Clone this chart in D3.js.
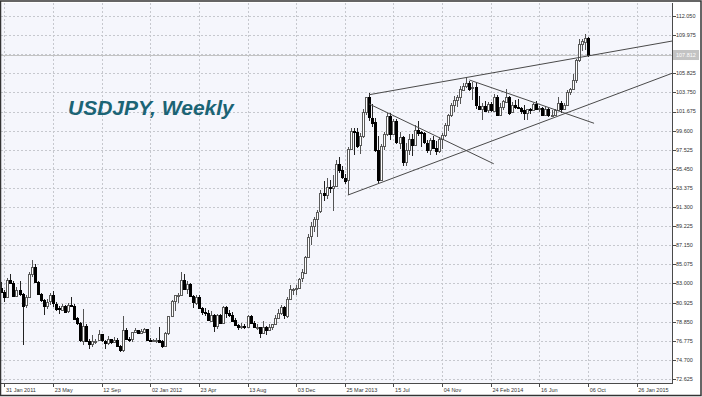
<!DOCTYPE html>
<html lang="en">
<head>
<meta charset="UTF-8">
<title>USDJPY, Weekly</title>
<script src="https://d3js.org/d3.v7.min.js"></script>
<style>
  body { margin: 0; background: #fff; }
  svg { display: block; font-family: "Liberation Sans", Arial, sans-serif; }
  .grid line { stroke: #c6c8ce; stroke-dasharray: 2,2; shape-rendering: crispEdges; }
  .tick-label { font-size: 5.5px; fill: #333; }
</style>
</head>
<body>
<svg width="702" height="397"></svg>
<script>
// weekly candles, first week starts on this Monday
const firstWeek = "2011-01-24";

const opens = [
  82.5, 82.1, 81.6, 83.4, 83.1, 81.7, 82.3, 81.9, 80.6, 81.5, 84.0, 84.8, 83.2, 81.9, 81.2, 80.6, 81.0, 81.7, 80.8, 80.3,
  80.2, 80.6, 80.0, 80.7, 80.6, 79.2, 78.7, 76.8, 78.4, 76.8, 76.5, 76.8, 76.8, 77.5, 76.8, 76.6, 77.0, 76.7, 76.9, 76.2,
  75.8, 78.0, 77.0, 76.9, 77.7, 77.9, 77.6, 77.8, 78.1,
  76.9, 76.8, 76.9, 76.9, 76.7, 76.2, 77.6, 79.5, 81.1, 81.7, 81.8, 83.4, 82.4, 82.9, 81.6, 80.9, 81.5, 80.3, 79.9, 79.8,
  79.0, 79.6, 78.4, 79.6, 78.7, 80.4, 79.8, 79.6, 79.0, 78.5, 78.3, 78.4, 78.3, 79.5, 78.7, 78.3, 78.3, 77.6, 78.3, 78.0,
  78.3, 78.6, 79.3, 79.8, 80.4, 79.5, 81.3, 82.4, 82.4, 82.5, 83.5, 84.2, 85.9,
  88.1, 89.2, 90.0, 90.8, 92.8, 92.6, 93.5, 93.4, 93.6, 96.0, 95.3, 94.5, 94.2, 97.6, 99.6, 99.5, 98.0, 99.0, 101.6, 103.2,
  101.0, 100.5, 97.5, 94.2, 97.9, 99.2, 101.2, 99.2, 100.6, 98.3, 98.9, 96.2, 97.5, 98.7, 98.1, 99.7, 99.4, 99.3, 98.3, 97.5,
  98.6, 97.7, 97.4, 98.7, 99.1, 100.2, 101.3, 102.4, 102.9, 103.2, 104.1, 104.5,
  104.8, 104.2, 104.3, 102.3, 102.0, 102.3, 101.8, 102.5, 101.8, 103.3, 101.3, 102.2, 102.8, 103.3, 101.6, 102.4, 102.2, 102.1, 101.8, 101.5,
  101.9, 101.8, 102.5, 102.0, 102.1, 101.3, 102.0, 101.3, 101.3, 101.8, 102.6, 102.0, 102.4, 103.8, 104.1, 105.1, 107.3, 109.0, 109.3, 109.7
];
const highs = [
  83.2, 82.3, 83.6, 84.0, 83.3, 82.6, 83.3, 82.0, 81.8, 84.2, 85.5, 85.1, 83.3, 82.0, 81.3, 81.3, 82.0, 82.2, 81.0, 80.5,
  80.8, 80.7, 80.9, 81.5, 80.8, 79.4, 78.8, 80.2, 78.6, 77.0, 77.4, 77.0, 77.9, 77.5, 76.9, 77.3, 77.0, 77.2, 77.1, 76.3,
  79.5, 78.2, 77.2, 77.7, 78.2, 78.0, 78.1, 78.2, 78.1,
  77.1, 77.0, 77.1, 78.3, 76.9, 77.7, 79.5, 81.2, 81.7, 82.0, 84.2, 84.0, 83.3, 83.0, 81.8, 81.7, 81.8, 80.4, 80.3, 80.1,
  80.0, 79.7, 79.7, 79.7, 80.5, 80.6, 80.1, 79.9, 79.2, 78.6, 78.7, 78.6, 79.6, 79.6, 78.9, 78.6, 78.3, 78.9, 78.4, 78.6,
  78.6, 79.6, 80.2, 80.7, 80.6, 81.5, 82.8, 82.5, 82.8, 83.6, 84.6, 86.0, 88.4,
  89.7, 90.2, 91.0, 93.2, 94.1, 94.5, 94.2, 94.8, 96.4, 96.7, 95.8, 94.9, 97.8, 99.9, 99.9, 99.9, 99.3, 101.9, 103.3, 103.7,
  102.5, 101.0, 99.0, 98.2, 99.4, 101.5, 101.5, 100.9, 100.9, 99.5, 99.0, 98.3, 99.2, 99.2, 100.2, 100.6, 99.6, 99.5, 98.6, 98.8,
  99.0, 98.5, 98.9, 99.3, 100.4, 101.4, 102.6, 103.4, 103.5, 104.4, 104.8, 105.4,
  105.0, 104.9, 104.8, 103.4, 102.6, 102.8, 102.7, 102.7, 103.6, 103.5, 102.6, 102.9, 104.1, 103.4, 102.7, 102.9, 103.0, 102.2, 102.4, 102.0,
  102.1, 102.6, 102.8, 102.3, 102.2, 102.3, 102.1, 101.8, 101.9, 103.2, 102.8, 102.6, 104.0, 104.2, 105.7, 107.4, 109.5, 109.5, 110.1, 109.8
];
const lows = [
  82.0, 81.0, 81.5, 82.9, 81.6, 81.5, 81.6, 76.3, 80.3, 81.4, 83.7, 83.0, 81.8, 81.0, 79.6, 80.2, 80.7, 80.4, 80.0, 79.7,
  80.0, 79.9, 79.8, 80.4, 79.0, 78.5, 76.6, 76.3, 76.6, 75.9, 76.1, 76.4, 76.7, 76.6, 75.9, 76.3, 76.4, 76.5, 76.1, 75.6,
  75.6, 76.9, 76.6, 76.6, 77.6, 77.5, 77.6, 77.7, 76.7,
  76.6, 76.6, 76.5, 76.6, 76.0, 76.1, 77.4, 79.4, 80.0, 80.9, 81.6, 82.3, 81.9, 81.6, 80.3, 80.7, 80.3, 79.6, 79.5, 79.0,
  78.9, 77.7, 78.1, 78.7, 78.6, 79.3, 79.4, 78.9, 78.4, 78.0, 78.1, 78.1, 78.2, 78.6, 78.2, 78.0, 77.1, 77.5, 77.4, 77.9,
  78.0, 78.5, 79.3, 79.6, 79.1, 79.3, 81.2, 81.7, 81.8, 82.4, 83.2, 84.2, 85.8,
  87.2, 88.6, 88.1, 90.6, 92.0, 92.2, 92.8, 90.9, 93.5, 95.0, 94.3, 93.8, 92.6, 97.6, 97.0, 97.7, 97.1, 98.8, 101.3, 100.7,
  100.0, 97.3, 93.8, 94.1, 97.5, 99.0, 98.6, 99.1, 98.2, 97.6, 95.8, 95.8, 97.0, 96.8, 98.0, 99.0, 97.8, 98.2, 97.2, 96.9,
  97.7, 96.9, 97.2, 97.6, 98.9, 99.6, 101.1, 101.6, 102.2, 102.5, 103.9, 104.2,
  103.9, 102.9, 102.0, 101.8, 100.75, 101.6, 101.5, 101.6, 101.6, 101.2, 101.2, 101.8, 102.8, 101.3, 101.5, 101.9, 101.9, 101.4, 100.8, 100.8,
  101.4, 101.7, 101.9, 101.6, 101.2, 101.2, 101.1, 101.1, 101.3, 101.7, 101.5, 102.0, 102.3, 103.5, 104.0, 104.8, 107.0, 108.3, 108.4, 107.6
];
const closes = [
  82.1, 81.6, 83.4, 83.1, 81.7, 82.3, 81.9, 80.6, 81.5, 84.0, 84.8, 83.2, 81.9, 81.2, 80.6, 81.0, 81.7, 80.8, 80.3, 80.2,
  80.6, 80.0, 80.7, 80.6, 79.2, 78.7, 76.8, 78.4, 76.8, 76.5, 76.8, 76.8, 77.5, 76.8, 76.6, 77.0, 76.7, 76.9, 76.2, 75.8,
  78.0, 77.0, 76.9, 77.7, 77.9, 77.6, 77.8, 78.1, 76.9,
  76.8, 76.9, 76.9, 76.7, 76.2, 77.6, 79.5, 81.1, 81.7, 81.8, 83.4, 82.4, 82.9, 81.6, 80.9, 81.5, 80.3, 79.9, 79.8, 79.0,
  79.6, 78.4, 79.6, 78.7, 80.4, 79.8, 79.6, 79.0, 78.5, 78.3, 78.4, 78.3, 79.5, 78.7, 78.3, 78.3, 77.6, 78.3, 78.0, 78.3,
  78.6, 79.3, 79.8, 80.4, 79.5, 81.3, 82.4, 82.4, 82.5, 83.5, 84.2, 85.9, 88.1,
  89.2, 90.0, 90.8, 92.8, 92.6, 93.5, 93.4, 93.6, 96.0, 95.3, 94.5, 94.2, 97.6, 99.6, 99.5, 98.0, 99.0, 101.6, 103.2, 101.0,
  100.5, 97.5, 94.2, 97.9, 99.2, 101.2, 99.2, 100.6, 98.3, 98.9, 96.2, 97.5, 98.7, 98.1, 99.7, 99.4, 99.3, 98.3, 97.5, 98.6,
  97.7, 97.4, 98.7, 99.1, 100.2, 101.3, 102.4, 102.9, 103.2, 104.1, 104.5, 104.8,
  104.2, 104.3, 102.3, 102.0, 102.3, 101.8, 102.5, 101.8, 103.3, 101.3, 102.2, 102.8, 103.3, 101.6, 102.4, 102.2, 102.1, 101.8, 101.5, 101.9,
  101.8, 102.5, 102.0, 102.1, 101.3, 102.0, 101.3, 101.3, 101.8, 102.6, 102.0, 102.4, 103.8, 104.1, 105.1, 107.3, 109.0, 109.3, 109.7, 107.8
];

const lastPrice = 107.812;

const xTickDates = ["2011-01-31", "2011-05-23", "2011-09-12", "2012-01-02", "2012-04-23", "2012-08-13", "2012-12-03",
  "2013-03-25", "2013-07-15", "2013-11-04", "2014-02-24", "2014-06-16", "2014-10-06", "2015-01-26"];
const xTickLabels = ["31 Jan 2011", "23 May", "12 Sep", "02 Jan 2012", "23 Apr", "13 Aug", "03 Dec",
  "25 Mar 2013", "15 Jul", "04 Nov", "24 Feb 2014", "16 Jun", "06 Oct", "26 Jan 2015"];
const yTicks = [72.625, 74.700, 76.775, 78.850, 80.925, 83.000, 85.075, 87.150, 89.225, 91.300,
  93.375, 95.450, 97.525, 99.600, 101.675, 103.750, 105.825, 107.900, 109.975, 112.050];

// trend lines: [start date, price, end date, price]
const trendLines = [
  ["2013-05-20", 103.5, "2015-04-20", 109.35],
  ["2013-04-01", 92.6, "2015-04-20", 105.87],
  ["2013-05-20", 102.5, "2014-03-03", 96.0],
  ["2014-01-06", 105.1, "2014-10-20", 100.4]
];

const svg = d3.select("svg");
const W = +svg.attr("width");
const H = +svg.attr("height");
const plot = {left: 1, top: 3, right: 672, bottom: 383};
const parse = d3.utcParse("%Y-%m-%d");

const x = d3.scaleUtc()
  .domain([parse("2011-01-31"), parse("2015-01-26")])
  .range([4.3, 4.3 + 208 * 3.04]);
const y = d3.scaleLinear()
  .domain([72.625, 112.05])
  .range([379, 16]);

const start = parse(firstWeek);
const candles = closes.map((c, i) => ({
  date: d3.utcDay.offset(start, 7 * i),
  o: opens[i], h: highs[i], l: lows[i], c: c
}));

svg.append("rect").attr("width", W).attr("height", H).attr("fill", "#fff");
svg.append("rect")
  .attr("x", plot.left).attr("y", plot.top)
  .attr("width", plot.right - plot.left).attr("height", plot.bottom - plot.top)
  .attr("fill", "#f5f6fc");

svg.append("clipPath").attr("id", "clip")
  .append("rect")
  .attr("x", plot.left).attr("y", plot.top)
  .attr("width", plot.right - plot.left).attr("height", plot.bottom - plot.top);

// grid
const grid = svg.append("g").attr("class", "grid");
grid.selectAll(".h").data(yTicks).enter().append("line")
  .attr("x1", plot.left).attr("x2", plot.right)
  .attr("y1", d => Math.round(y(d)) + 0.5).attr("y2", d => Math.round(y(d)) + 0.5);
grid.selectAll(".v").data(xTickDates).enter().append("line")
  .attr("x1", d => Math.round(x(parse(d))) + 0.5).attr("x2", d => Math.round(x(parse(d))) + 0.5)
  .attr("y1", plot.top).attr("y2", plot.bottom);

// title
svg.append("text")
  .attr("x", 68).attr("y", 115)
  .attr("font-size", "21px").attr("font-weight", "bold").attr("font-style", "italic")
  .attr("fill", "#1b6475")
  .text("USDJPY, Weekly");

// bid line
svg.append("line")
  .attr("x1", plot.left).attr("x2", plot.right)
  .attr("y1", Math.round(y(lastPrice)) + 0.5).attr("y2", Math.round(y(lastPrice)) + 0.5)
  .attr("stroke", "#c3c3c3").attr("shape-rendering", "crispEdges");

// candles
const cg = svg.append("g").attr("clip-path", "url(#clip)").attr("shape-rendering", "crispEdges");
const cx = d => Math.round(x(d.date));

cg.selectAll(".wick").data(candles).enter().append("line")
  .attr("x1", d => cx(d) + 0.5).attr("x2", d => cx(d) + 0.5)
  .attr("y1", d => y(d.h)).attr("y2", d => y(d.l))
  .attr("stroke", d => d.c >= d.o ? "#555" : "#222");

cg.selectAll(".body").data(candles).enter().append("rect")
  .attr("x", d => cx(d) - 0.5)
  .attr("width", 2)
  .attr("y", d => Math.round(y(Math.max(d.o, d.c))) + 0.5)
  .attr("height", d => Math.max(0.5, Math.round(Math.abs(y(d.o) - y(d.c)))))
  .attr("fill", d => d.c >= d.o ? "#fff" : "#000")
  .attr("stroke", d => d.c >= d.o ? "#5a5a5a" : "#000");

// trend lines
svg.append("g").attr("clip-path", "url(#clip)")
  .selectAll("line").data(trendLines).enter().append("line")
  .attr("x1", d => x(parse(d[0]))).attr("y1", d => y(d[1]))
  .attr("x2", d => x(parse(d[2]))).attr("y2", d => y(d[3]))
  .attr("stroke", "#4a4a4a").attr("stroke-width", 1);

// axes
const ax = svg.append("g").attr("shape-rendering", "crispEdges").attr("stroke", "#4a4a4a");
ax.append("line").attr("x1", plot.right + 0.5).attr("x2", plot.right + 0.5)
  .attr("y1", plot.top).attr("y2", plot.bottom + 1);
ax.append("line").attr("x1", plot.left).attr("x2", plot.right + 1)
  .attr("y1", plot.bottom + 0.5).attr("y2", plot.bottom + 0.5);
ax.selectAll(".yt").data(yTicks).enter().append("line")
  .attr("x1", plot.right).attr("x2", plot.right + 4)
  .attr("y1", d => Math.round(y(d)) + 0.5).attr("y2", d => Math.round(y(d)) + 0.5);
ax.selectAll(".xt").data(xTickDates).enter().append("line")
  .attr("x1", d => Math.round(x(parse(d))) + 0.5).attr("x2", d => Math.round(x(parse(d))) + 0.5)
  .attr("y1", plot.bottom).attr("y2", plot.bottom + 4);

svg.selectAll(".ylab").data(yTicks.filter(d => Math.abs(d - lastPrice) > 0.5)).enter().append("text")
  .attr("class", "tick-label")
  .attr("x", plot.right + 4).attr("y", d => y(d)).attr("dy", "0.35em")
  .text(d => d3.format(".3f")(d));

svg.selectAll(".xlab").data(xTickDates).enter().append("text")
  .attr("class", "tick-label")
  .attr("x", d => x(parse(d)) + 1.7).attr("y", 392)
  .text((d, i) => xTickLabels[i]);

// last price marker
svg.append("rect")
  .attr("x", plot.right + 1).attr("y", y(lastPrice) - 5)
  .attr("width", 26).attr("height", 10).attr("fill", "#c3c3c3");
svg.append("text")
  .attr("class", "tick-label")
  .attr("x", plot.right + 4).attr("y", y(lastPrice)).attr("dy", "0.35em")
  .attr("fill", "#fff").style("fill", "#fff")
  .text(d3.format(".3f")(lastPrice));

// outer frame
svg.append("rect")
  .attr("x", 0.5).attr("y", 1).attr("width", W - 1.5).attr("height", H - 2.5)
  .attr("fill", "none").attr("stroke", "#333").attr("stroke-width", 1.5);
</script>
</body>
</html>
